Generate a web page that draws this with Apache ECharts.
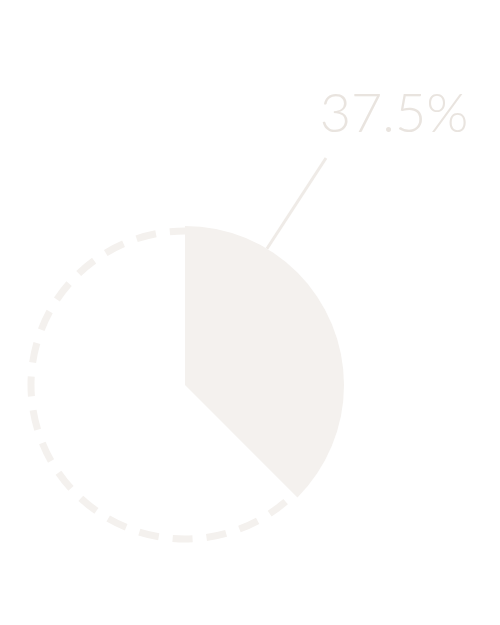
<!DOCTYPE html>
<html>
<head>
<meta charset="utf-8">
<script src="https://cdn.jsdelivr.net/npm/echarts@6/dist/echarts.min.js"></script>
<style>html,body{margin:0;padding:0;background:#fff;}#c{width:500px;height:625px;}</style>
</head>
<body>
<div id="c"></div>
<script>
const categories = ['Share', 'Rest'];
const values = [37.5, 62.5];
const labelTexts = ['37.5%', ''];

const fillColor = '#f4f1ee';
const lineColor = '#efebe7';
const centerPx = [185, 385];
const radiusPx = 159;

const chart = echarts.init(document.getElementById('c'), null, {renderer: 'canvas'});
const total = values.reduce((a, b) => a + b, 0);

chart.setOption({
  animation: false,
  backgroundColor: '#ffffff',
  series: [
    {
      type: 'pie',
      silent: true,
      z: 1,
      center: centerPx,
      radius: radiusPx - 5,
      label: {show: false},
      labelLine: {show: false},
      data: [{
        name: 'outline',
        value: total,
        itemStyle: {color: 'rgba(0,0,0,0)', borderColor: fillColor, borderWidth: 7, borderType: [20, 14]}
      }]
    },
    {
      type: 'pie',
      silent: true,
      z: 2,
      center: centerPx,
      radius: radiusPx,
      startAngle: 90,
      clockwise: true,
      data: categories.map((c, i) => ({
        name: c,
        value: values[i],
        itemStyle: i === 0 ? {color: fillColor} : {color: 'rgba(0,0,0,0)'},
        label: {show: i === 0},
        labelLine: {show: i === 0}
      })),
      label: {
        formatter: (p) => labelTexts[p.dataIndex],
        color: '#e9e4df',
        fontFamily: 'Lato, "DejaVu Sans", sans-serif',
        fontWeight: 300,
        fontSize: 54,
        overflow: 'none',
        width: 300
      },
      labelLine: {
        lineStyle: {color: lineColor, width: 3}
      },
      labelLayout: function (params) {
        const a = 31 * Math.PI / 180;
        const sx = centerPx[0] + radiusPx * Math.sin(a);
        const sy = centerPx[1] - radiusPx * Math.cos(a);
        return {
          x: 394, y: 115, align: 'center', verticalAlign: 'middle',
          labelLinePoints: [[sx, sy], [326, 158], [326, 158]]
        };
      }
    }
  ]
});
</script>
</body>
</html>
